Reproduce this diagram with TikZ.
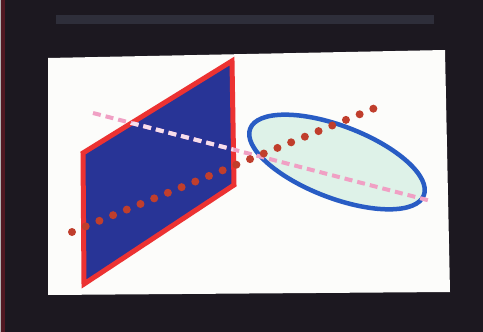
\documentclass[tikz,border=0pt]{standalone}
\usetikzlibrary{calc}
\definecolor{bgdark}{RGB}{28,24,32}
\definecolor{band}{RGB}{46,46,58}
\definecolor{panel}{RGB}{252,252,250}
\definecolor{planeblue}{RGB}{40,52,150}
\definecolor{planered}{RGB}{236,50,50}
\definecolor{ellfill}{RGB}{222,242,232}
\definecolor{ellblue}{RGB}{40,92,196}
\definecolor{dotred}{RGB}{192,62,44}
\definecolor{dashpink}{RGB}{240,160,196}
\definecolor{dashlight}{RGB}{246,222,236}
\definecolor{edgered}{RGB}{80,24,34}
\tikzset{
  plane/.style={draw=planered, fill=planeblue, line width=5pt, line join=miter},
  ellip/.style={draw=ellblue, fill=ellfill, line width=4.5pt},
  dotline/.style={draw=dotred, line width=8pt, line cap=round, dash pattern=on 0pt off 14.8pt},
  dashline/.style={draw=dashpink, line width=4pt, dash pattern=on 8pt off 5pt},
}
\begin{document}
\begin{tikzpicture}[x=1pt,y=-1pt]
\useasboundingbox (0,0) rectangle (483,332);
\fill[bgdark] (0,0) rectangle (483,332);
\fill[band] (56,15) rectangle (434,24);
\fill[edgered] (1,0) rectangle (5,332);
\fill[gray!60] (0,0) rectangle (1,332);
% white panel
\fill[panel] (48,58) -- (445,50) -- (450,292) -- (48,295) -- cycle;
% plane
\coordinate (p1) at (232,61);
\coordinate (p2) at (234,185);
\coordinate (p3) at (84,284);
\coordinate (p4) at (83,153);
\path[plane] (p1) -- (p2) -- (p3) -- (p4) -- cycle;
% ellipse
\coordinate (ec) at (337,162);
\path[ellip] (ec) ellipse[x radius=93pt, y radius=36pt, rotate=-21];
% lines
\coordinate (d1) at (72,232);
\coordinate (d2) at (375,108);
\coordinate (s1) at (93,113);
\coordinate (s2) at (431,201);
\path[dashline] (s1) -- (s2);
\begin{scope}
  \clip (p1) -- (p2) -- (p3) -- (p4) -- cycle;
  \path[dashline, draw=dashlight] (s1) -- (s2);
\end{scope}
\path[dotline] (d1) -- (d2);
\end{tikzpicture}
\end{document}
